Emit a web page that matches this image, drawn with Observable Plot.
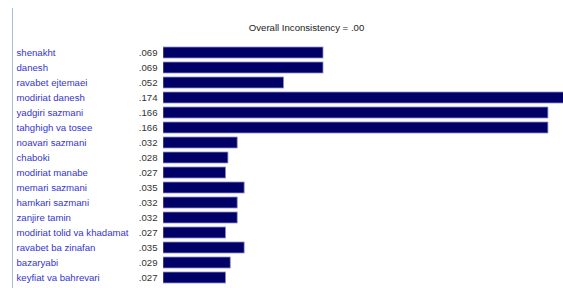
<!DOCTYPE html>
<html><head><meta charset="utf-8">
<script src="https://cdn.jsdelivr.net/npm/d3@7"></script>
<script src="https://cdn.jsdelivr.net/npm/@observablehq/plot@0.6"></script>
<style>body{margin:0;background:#fff}</style>
</head><body><div id="chart"></div>
<script>
const names = ["shenakht","danesh","ravabet ejtemaei","modiriat danesh","yadgiri sazmani","tahghigh va tosee","noavari sazmani","chaboki","modiriat manabe","memari sazmani","hamkari sazmani","zanjire tamin","modiriat tolid va khadamat","ravabet ba zinafan","bazaryabi","keyfiat va bahrevari"];
const weights = [0.069,0.069,0.052,0.174,0.166,0.166,0.032,0.028,0.027,0.035,0.032,0.032,0.027,0.035,0.029,0.027];
const labels = [".069",".069",".052",".174",".166",".166",".032",".028",".027",".035",".032",".032",".027",".035",".029",".027"];
const title = "Overall Inconsistency = .00";
const data = names.map((n,i)=>({name:n, w:weights[i], label:labels[i]}));
const font = "Liberation Sans, Arial, sans-serif";
const chart = Plot.plot({
  width:563, height:288,
  marginLeft:163, marginRight:0, marginTop:43, marginBottom:0,
  style:{fontFamily:font, fontSize:"9.6px", background:"#fff"},
  x:{domain:[0,0.1725], axis:null},
  y:{domain:names, axis:null, padding:0.25},
  marks:[
    Plot.barX(data,{x:"w", y:"name", fill:"#000066", stroke:"#9090d0", strokeWidth:0.8, clip:true}),
    Plot.text(data,{y:"name", text:"name", frameAnchor:"left", dx:-147, textAnchor:"start", fill:"#3535d0"}),
    Plot.text(data,{y:"name", text:"label", frameAnchor:"left", dx:-6, textAnchor:"end", fill:"#333"}),
    Plot.text([title],{text:d=>d, frameAnchor:"top", dx:-57, dy:-19, fill:"#222"})
  ]
});
d3.select(chart).append("line").attr("x1",12.5).attr("x2",12.5).attr("y1",8).attr("y2",288).attr("stroke","#a8b8e8").attr("stroke-width",1);
document.getElementById("chart").append(chart);
</script></body></html>
